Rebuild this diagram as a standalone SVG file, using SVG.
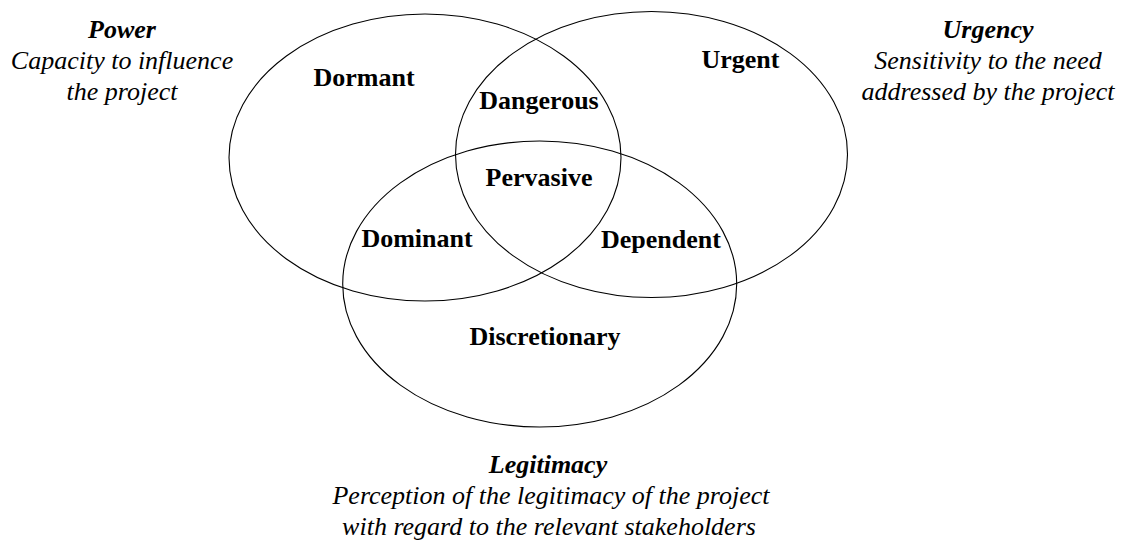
<svg xmlns="http://www.w3.org/2000/svg" width="1129" height="549" viewBox="0 0 1129 549">
<style>
  .set { fill: none; stroke: #000; stroke-width: 1.1; }
  .lbl { font-family: "Liberation Serif", "Times New Roman", serif; font-size: 26px; font-weight: bold; text-anchor: middle; fill: #000; }
  .ttl { font-family: "Liberation Serif", "Times New Roman", serif; font-size: 26px; font-weight: bold; font-style: italic; text-anchor: middle; fill: #000; }
  .dsc { font-family: "Liberation Serif", "Times New Roman", serif; font-size: 26px; font-style: italic; text-anchor: middle; fill: #000; }
</style>
<rect x="0" y="0" width="1129" height="549" fill="#fff"/>
<g id="power">
  <ellipse class="set" cx="425" cy="157.5" rx="196" ry="143.5"/>
  <text class="ttl" x="122" y="38">Power</text>
  <text class="dsc" x="122" y="69">Capacity to influence</text>
  <text class="dsc" x="122" y="100">the project</text>
</g>
<g id="urgency">
  <ellipse class="set" cx="651.5" cy="154.5" rx="196" ry="143"/>
  <text class="ttl" x="988" y="38">Urgency</text>
  <text class="dsc" x="988" y="69">Sensitivity to the need</text>
  <text class="dsc" x="988" y="100">addressed by the project</text>
</g>
<g id="legitimacy">
  <ellipse class="set" cx="539.7" cy="284" rx="197" ry="143"/>
  <text class="ttl" x="548" y="473">Legitimacy</text>
  <text class="dsc" x="551" y="504">Perception of the legitimacy of the project</text>
  <text class="dsc" x="549" y="535">with regard to the relevant stakeholders</text>
</g>
<g id="regions">
  <text id="dormant" class="lbl" x="364" y="86">Dormant</text>
  <text id="urgent" class="lbl" x="740.5" y="68">Urgent</text>
  <text id="dangerous" class="lbl" x="539" y="109">Dangerous</text>
  <text id="pervasive" class="lbl" x="539" y="186">Pervasive</text>
  <text id="dominant" class="lbl" x="417" y="247">Dominant</text>
  <text id="dependent" class="lbl" x="661" y="248">Dependent</text>
  <text id="discretionary" class="lbl" x="545" y="345">Discretionary</text>
</g>
<g id="connectors"></g>
</svg>
